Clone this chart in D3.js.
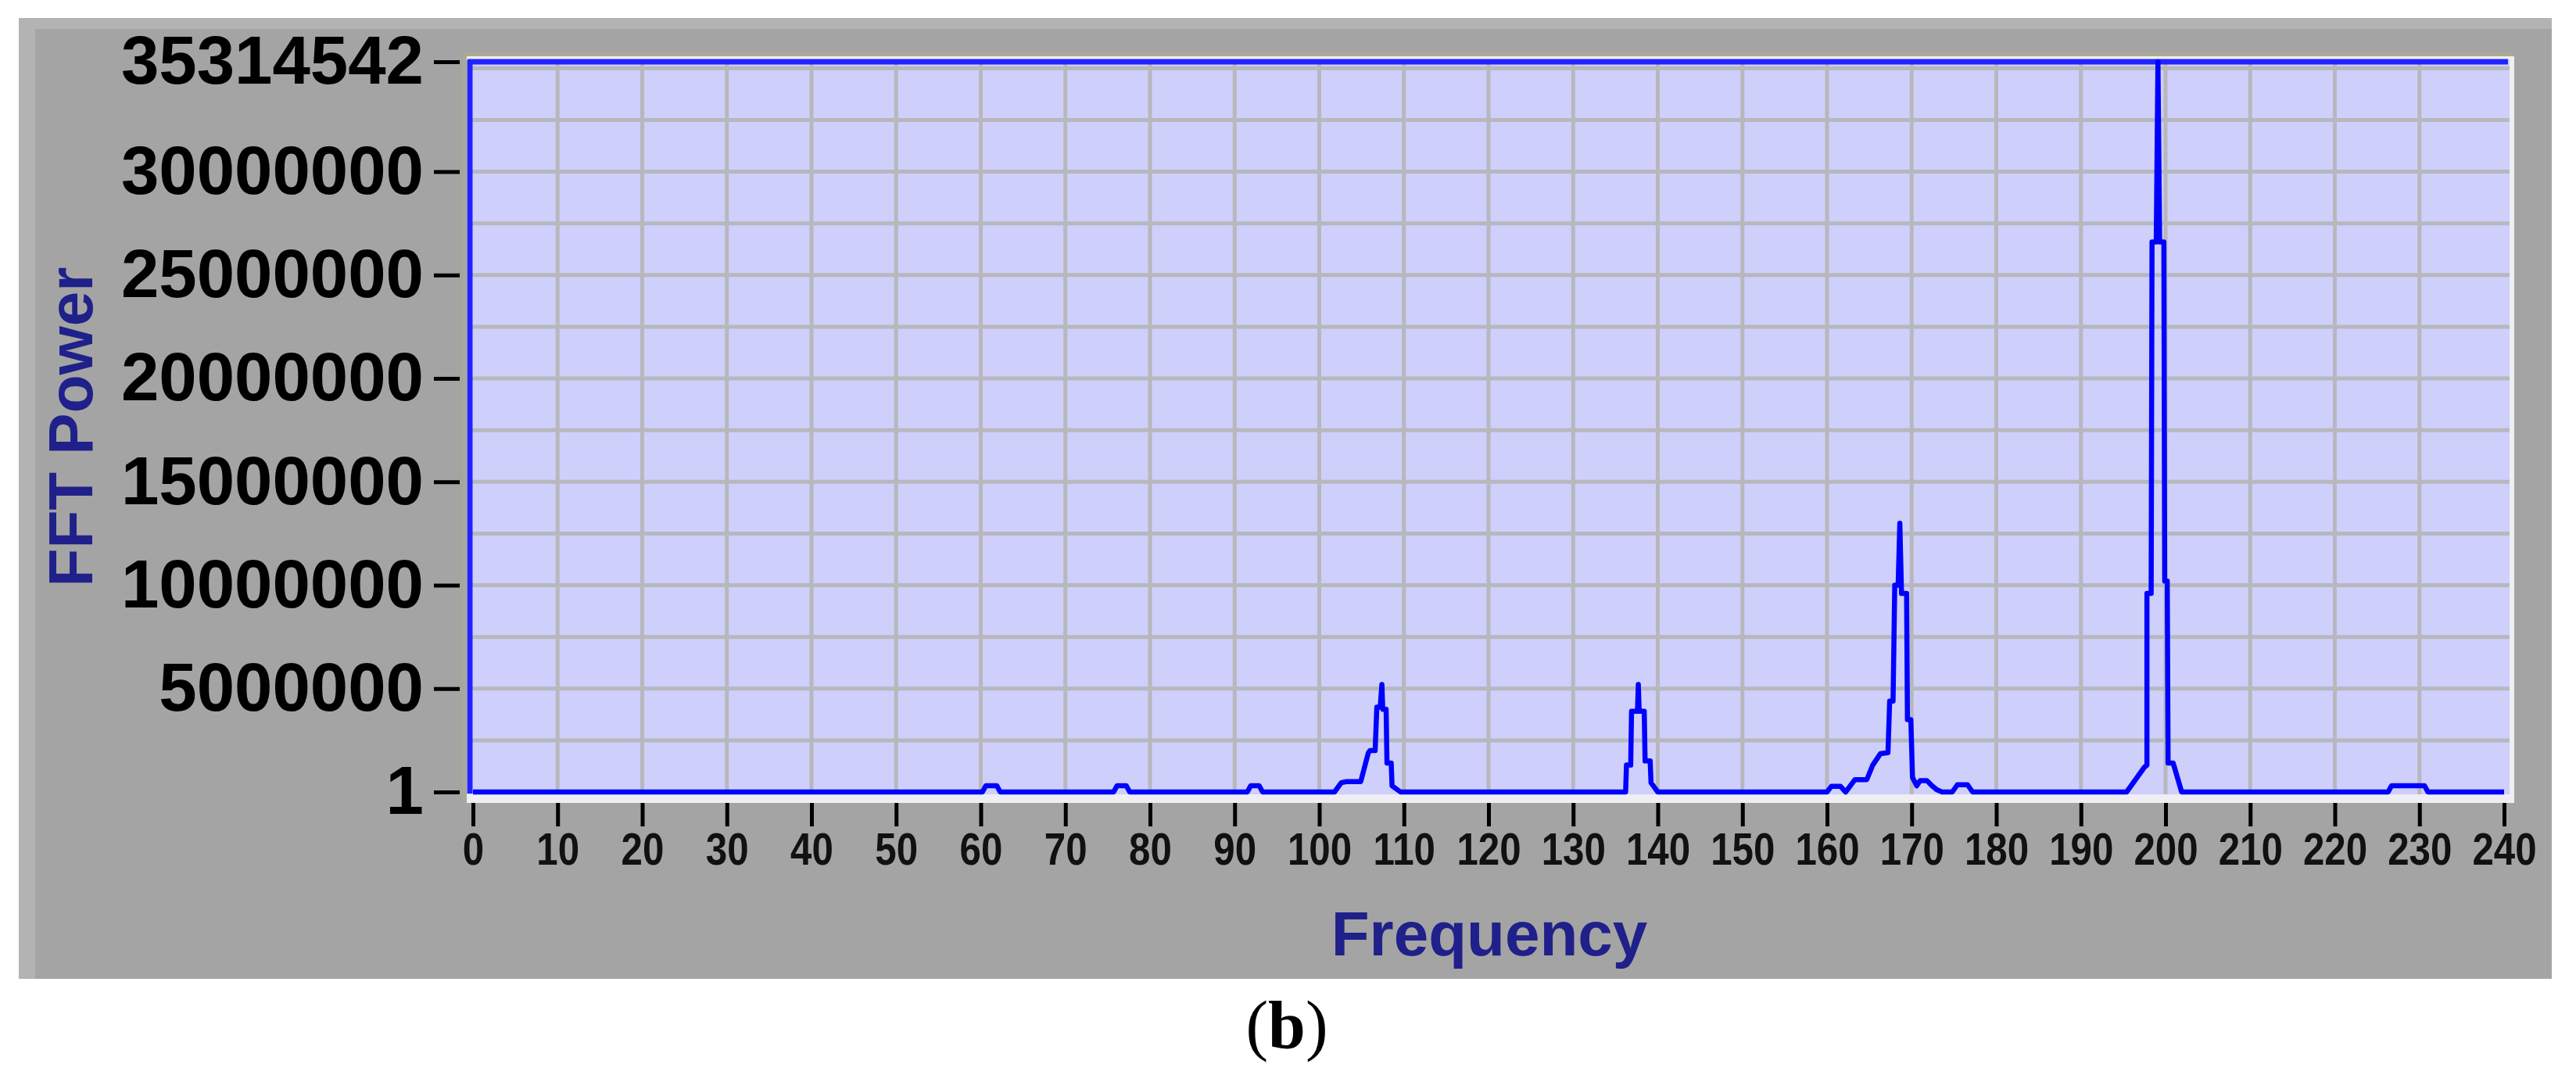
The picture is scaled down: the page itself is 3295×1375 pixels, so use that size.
<!DOCTYPE html>
<html>
<head>
<meta charset="utf-8">
<script src="https://cdn.jsdelivr.net/npm/d3@7"></script>
<style>
  html, body { margin: 0; padding: 0; background: #ffffff; }
  svg { display: block; }
</style>
</head>
<body>
<svg id="chart" width="3295" height="1375"></svg>
<script>
// ---- data ----
const freq = [
  0, 60.2, 60.6, 61.9, 62.3,
  75.7, 76.1, 77.2, 77.6,
  91.5, 91.9, 92.9, 93.3,
  101.8, 102.6, 103.2, 104.9, 105.8, 106.0, 106.6, 106.8, 107.2, 107.4, 107.5, 107.9, 108.0, 108.5, 108.6, 109.6,
  136.2, 136.3, 136.8, 136.9, 137.6, 137.7, 137.8, 138.4, 138.5, 139.1, 139.2, 140.0,
  160.0, 160.5, 161.6, 162.2, 163.3, 164.7, 165.4, 166.3, 167.2, 167.4, 167.8, 168.0, 168.4, 168.6, 168.8, 169.4, 169.5, 169.9, 170.1, 170.6, 171.0, 171.8, 172.4, 173.0, 173.6,
  174.8, 175.4, 176.6, 177.2,
  195.4, 197.5, 197.8, 197.8, 198.3, 198.4, 198.9, 199.1, 199.3, 199.8, 199.9, 200.2, 200.3, 200.9, 201.9,
  226.3, 226.7, 230.6, 231.0, 240
];
const power = [
  1, 1, 300000, 300000, 1,
  1, 300000, 300000, 1,
  1, 300000, 300000, 1,
  1, 450000, 500000, 500000, 1900000, 2000000, 2000000, 4100000, 4100000, 5200000, 4000000, 4000000, 1400000, 1400000, 300000, 1,
  1, 1300000, 1300000, 3900000, 3900000, 5200000, 3900000, 3900000, 1500000, 1500000, 450000, 1,
  1, 270000, 270000, 1, 600000, 600000, 1300000, 1850000, 1900000, 4400000, 4400000, 10000000, 10000000, 13000000, 9600000, 9600000, 3500000, 3500000, 700000, 300000, 550000, 550000, 300000, 100000, 1,
  1, 350000, 350000, 1,
  1, 1200000, 1300000, 9600000, 9600000, 26600000, 26600000, 35314542, 26600000, 26600000, 10200000, 10200000, 1400000, 1400000, 1,
  1, 300000, 300000, 1, 1
];
const xTickValues = [0,10,20,30,40,50,60,70,80,90,100,110,120,130,140,150,160,170,180,190,200,210,220,230,240];
const yTickValues = [1, 5000000, 10000000, 15000000, 20000000, 25000000, 30000000, 35314542];
const yGridValues = [2500000, 5000000, 7500000, 10000000, 12500000, 15000000, 17500000, 20000000, 22500000, 25000000, 27500000, 30000000, 32500000, 35000000];
const xGridValues = [10,20,30,40,50,60,70,80,90,100,110,120,130,140,150,160,170,180,190,200,210,220,230];
const xTitle = "Frequency";
const yTitle = "FFT Power";
const caption = "b";

// ---- drawing ----
const svg = d3.select("#chart");
const FONT = "'Liberation Sans', Arial, Helvetica, sans-serif";

const x = d3.scaleLinear().domain([0, 240]).range([605, 3203]);
const y = d3.scaleLinear().domain([1, 35314542]).range([1013, 79]);

// panel
svg.append("rect").attr("x", 24).attr("y", 23).attr("width", 3240).attr("height", 1229).attr("fill", "#b3b3b3");
svg.append("rect").attr("x", 45).attr("y", 37).attr("width", 3219).attr("height", 1215).attr("fill", "#a4a4a4");

// plot frame (sunken look)
svg.append("rect").attr("x", 592).attr("y", 67).attr("width", 2624).attr("height", 960).attr("fill", "#a9a996");
svg.append("rect").attr("x", 597).attr("y", 72).attr("width", 2619).attr("height", 955).attr("fill", "#eeeef4");
svg.append("rect").attr("x", 598).attr("y", 76).attr("width", 2612).attr("height", 940).attr("fill", "#cfcffb");

// grid
const grid = svg.append("g");
grid.selectAll("line.h").data(yGridValues).enter().append("line")
  .attr("x1", 600).attr("x2", 3210)
  .attr("y1", d => y(d)).attr("y2", d => y(d))
  .attr("stroke", "#b7b7bd").attr("stroke-width", 5);
grid.selectAll("line.v").data(xGridValues).enter().append("line")
  .attr("x1", d => x(d)).attr("x2", d => x(d))
  .attr("y1", 79).attr("y2", 1016)
  .attr("stroke", "#b7b7bd").attr("stroke-width", 5);

// frame top / left lines
svg.append("line").attr("x1", 598).attr("x2", 3208).attr("y1", 79).attr("y2", 79)
  .attr("stroke", "#2222ff").attr("stroke-width", 7);
svg.append("line").attr("x1", 601).attr("x2", 601).attr("y1", 77).attr("y2", 1015)
  .attr("stroke", "#2222ff").attr("stroke-width", 7);

// data line
const pts = freq.map((f, i) => [f, power[i]]);
const line = d3.line().x(d => x(d[0])).y(d => y(d[1]));
svg.append("path").datum(pts).attr("d", line)
  .attr("fill", "none").attr("stroke", "#0000ff").attr("stroke-width", 6.5)
  .attr("stroke-linejoin", "round");

// y axis
const yAxis = svg.append("g").attr("transform", "translate(588,0)")
  .call(d3.axisLeft(y).tickValues(yTickValues).tickFormat(d3.format("d")).tickSize(33).tickPadding(13));
yAxis.select(".domain").remove();
yAxis.selectAll(".tick line").attr("stroke", "#000").attr("stroke-width", 5);
yAxis.selectAll(".tick text").attr("fill", "#000")
  .style("font-family", FONT).style("font-weight", "bold").style("font-size", "87px");

// x axis
const xAxis = svg.append("g").attr("transform", "translate(0,1027)")
  .call(d3.axisBottom(x).tickValues(xTickValues).tickFormat(d3.format("d")).tickSize(30).tickPadding(8));
xAxis.select(".domain").remove();
xAxis.selectAll(".tick line").attr("stroke", "#000").attr("stroke-width", 5);
xAxis.selectAll(".tick text").attr("fill", "#111")
  .attr("transform", "scale(0.85,1)")
  .style("font-family", FONT).style("font-weight", "bold").style("font-size", "58px");

// axis titles
svg.append("text").attr("x", 1905).attr("y", 1222).attr("text-anchor", "middle")
  .attr("fill", "#20208a").style("font-family", FONT).style("font-weight", "bold").style("font-size", "80px")
  .text(xTitle);
svg.append("text").attr("transform", "translate(118,546) rotate(-90)").attr("text-anchor", "middle")
  .attr("fill", "#20208a").style("font-family", FONT).style("font-weight", "bold").style("font-size", "80px")
  .text(yTitle);

// caption
const cap = svg.append("text").attr("x", 1646).attr("y", 1340).attr("text-anchor", "middle")
  .style("font-family", "'Liberation Serif', 'Times New Roman', serif").style("font-size", "86px").attr("fill", "#000");
cap.append("tspan").text("(");
cap.append("tspan").style("font-weight", "bold").text(caption);
cap.append("tspan").text(")");
</script>
</body>
</html>
